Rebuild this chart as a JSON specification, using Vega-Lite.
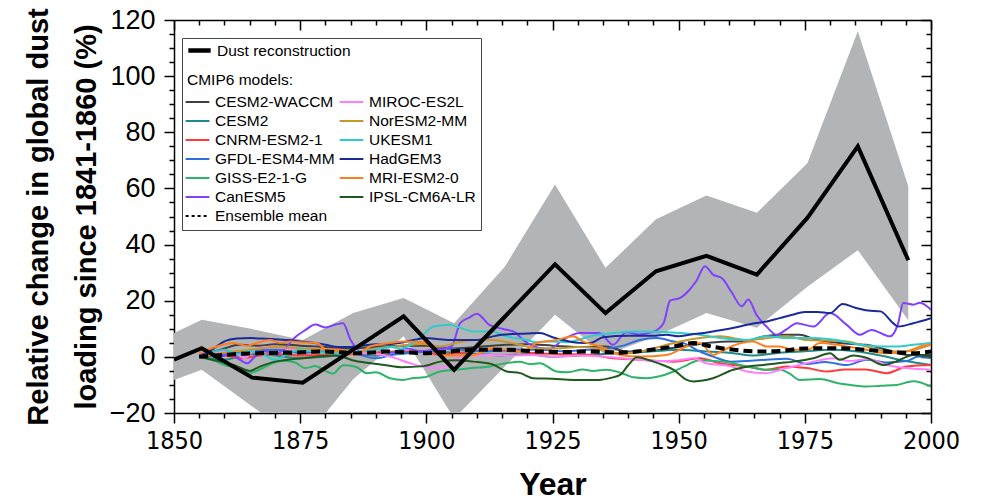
{
  "$schema": "https://vega.github.io/schema/vega-lite/v6.json",
  "width": 757,
  "height": 393,
  "autosize": {"type": "none"},
  "padding": {"left": 174, "top": 20, "right": 53, "bottom": 87},
  "config": {"view": {"stroke": null}, "font": "Liberation Sans"},
  "datasets": {
    "band": [
      {"year": 1850, "lo": -8.2, "hi": 8.5}, {"year": 1855.5, "lo": -4.6, "hi": 13.2}, {"year": 1865.5, "lo": -17.7, "hi": 9.9},
      {"year": 1875.5, "lo": -30, "hi": 6}, {"year": 1885.5, "lo": -8, "hi": 15.6}, {"year": 1895.5, "lo": 7.3, "hi": 21},
      {"year": 1905.5, "lo": -22, "hi": 12}, {"year": 1915.5, "lo": -3.5, "hi": 32}, {"year": 1925.5, "lo": 15, "hi": 61.4},
      {"year": 1935.5, "lo": 0.7, "hi": 31.7}, {"year": 1945.5, "lo": 7.3, "hi": 49}, {"year": 1955.5, "lo": 15.6, "hi": 57.5},
      {"year": 1965.5, "lo": 10.4, "hi": 51.3}, {"year": 1975.5, "lo": 25, "hi": 69}, {"year": 1985.5, "lo": 38, "hi": 116},
      {"year": 1995.5, "lo": 13, "hi": 60.8}
    ],
    "dust": [
      {"year": 1850, "value": -1}, {"year": 1855.5, "value": 3.1}, {"year": 1865.5, "value": -7.4}, {"year": 1875.5, "value": -9.2},
      {"year": 1885.5, "value": 2.6}, {"year": 1895.5, "value": 14.4}, {"year": 1905.5, "value": -4.6}, {"year": 1915.5, "value": 14.2},
      {"year": 1925.5, "value": 33}, {"year": 1935.5, "value": 15.6}, {"year": 1945.5, "value": 30.5}, {"year": 1955.5, "value": 36},
      {"year": 1965.5, "value": 29.3}, {"year": 1975.5, "value": 49.5}, {"year": 1985.5, "value": 75}, {"year": 1995.5, "value": 34.4}
    ],
    "ens": [
      {"year": 1855, "value": 0}, {"year": 1859.8, "value": 0.7}, {"year": 1866.4, "value": 1.3}, {"year": 1873, "value": 1.5},
      {"year": 1879.6, "value": 1.9}, {"year": 1886.2, "value": 1.3}, {"year": 1892.8, "value": 1.9}, {"year": 1899.4, "value": 1.3},
      {"year": 1902.7, "value": 1.6}, {"year": 1909.3, "value": 2.5}, {"year": 1915.9, "value": 2.5}, {"year": 1922.5, "value": 1.9},
      {"year": 1927, "value": 1.7}, {"year": 1932.4, "value": 1.9}, {"year": 1938.4, "value": 1.5}, {"year": 1943.6, "value": 2.3},
      {"year": 1949, "value": 3.7}, {"year": 1953, "value": 4.9}, {"year": 1957, "value": 3.5}, {"year": 1961, "value": 2.5},
      {"year": 1966, "value": 1.9}, {"year": 1970, "value": 2.1}, {"year": 1975, "value": 3}, {"year": 1981.9, "value": 3.1},
      {"year": 1987, "value": 2.5}, {"year": 1992.5, "value": 1.7}, {"year": 1996.5, "value": 1.3}, {"year": 2000, "value": 1.9}
    ],
    "models": [
      {"model": "CESM2-WACCM", "year": 1855, "value": 0}, {"model": "CESM2-WACCM", "year": 1860, "value": 3}, {"model": "CESM2-WACCM", "year": 1863, "value": 4.3},
      {"model": "CESM2-WACCM", "year": 1867, "value": 4}, {"model": "CESM2-WACCM", "year": 1870, "value": 4.5}, {"model": "CESM2-WACCM", "year": 1875, "value": 4},
      {"model": "CESM2-WACCM", "year": 1880, "value": 3.5}, {"model": "CESM2-WACCM", "year": 1885, "value": 3}, {"model": "CESM2-WACCM", "year": 1890, "value": 3.5},
      {"model": "CESM2-WACCM", "year": 1895, "value": 4}, {"model": "CESM2-WACCM", "year": 1900, "value": 4}, {"model": "CESM2-WACCM", "year": 1905, "value": 3},
      {"model": "CESM2-WACCM", "year": 1910, "value": 3.5}, {"model": "CESM2-WACCM", "year": 1915.9, "value": 4.3}, {"model": "CESM2-WACCM", "year": 1920, "value": 4.5},
      {"model": "CESM2-WACCM", "year": 1925, "value": 4}, {"model": "CESM2-WACCM", "year": 1930, "value": 3.5}, {"model": "CESM2-WACCM", "year": 1935.7, "value": 3.7},
      {"model": "CESM2-WACCM", "year": 1939.6, "value": 1.9}, {"model": "CESM2-WACCM", "year": 1944, "value": 2}, {"model": "CESM2-WACCM", "year": 1948, "value": 3},
      {"model": "CESM2-WACCM", "year": 1952, "value": 4}, {"model": "CESM2-WACCM", "year": 1956, "value": 5}, {"model": "CESM2-WACCM", "year": 1960, "value": 5.5},
      {"model": "CESM2-WACCM", "year": 1963, "value": 5.5}, {"model": "CESM2-WACCM", "year": 1966.8, "value": 7.3}, {"model": "CESM2-WACCM", "year": 1970, "value": 7.9},
      {"model": "CESM2-WACCM", "year": 1974, "value": 7.9}, {"model": "CESM2-WACCM", "year": 1976.7, "value": 6.4}, {"model": "CESM2-WACCM", "year": 1981.9, "value": 4.9},
      {"model": "CESM2-WACCM", "year": 1987.2, "value": 4.3}, {"model": "CESM2-WACCM", "year": 1991.2, "value": 2.5}, {"model": "CESM2-WACCM", "year": 1995.2, "value": 0.7},
      {"model": "CESM2-WACCM", "year": 2000, "value": 0.7},

      {"model": "CESM2", "year": 1855, "value": 0}, {"model": "CESM2", "year": 1860, "value": -1}, {"model": "CESM2", "year": 1865, "value": 1},
      {"model": "CESM2", "year": 1870, "value": 0.5}, {"model": "CESM2", "year": 1875, "value": -0.5}, {"model": "CESM2", "year": 1880, "value": 0},
      {"model": "CESM2", "year": 1885, "value": 1}, {"model": "CESM2", "year": 1890, "value": 0.5}, {"model": "CESM2", "year": 1895, "value": 1},
      {"model": "CESM2", "year": 1900, "value": 2}, {"model": "CESM2", "year": 1905, "value": 1.5}, {"model": "CESM2", "year": 1910, "value": 1},
      {"model": "CESM2", "year": 1915, "value": 0.5}, {"model": "CESM2", "year": 1920, "value": 1}, {"model": "CESM2", "year": 1925, "value": 0},
      {"model": "CESM2", "year": 1930, "value": 0.5}, {"model": "CESM2", "year": 1935, "value": 1}, {"model": "CESM2", "year": 1940, "value": 1.5},
      {"model": "CESM2", "year": 1945, "value": 2}, {"model": "CESM2", "year": 1950, "value": 2.5}, {"model": "CESM2", "year": 1955, "value": 2},
      {"model": "CESM2", "year": 1960, "value": 1.5}, {"model": "CESM2", "year": 1965, "value": 0.5}, {"model": "CESM2", "year": 1970, "value": 1.5},
      {"model": "CESM2", "year": 1975, "value": 2}, {"model": "CESM2", "year": 1980, "value": 2.5}, {"model": "CESM2", "year": 1985, "value": 2},
      {"model": "CESM2", "year": 1990, "value": 0.5}, {"model": "CESM2", "year": 1995, "value": -1.5}, {"model": "CESM2", "year": 2000, "value": -2.9},

      {"model": "CNRM-ESM2-1", "year": 1855, "value": 0}, {"model": "CNRM-ESM2-1", "year": 1860, "value": 0.5}, {"model": "CNRM-ESM2-1", "year": 1863, "value": -0.5},
      {"model": "CNRM-ESM2-1", "year": 1867, "value": 0.5}, {"model": "CNRM-ESM2-1", "year": 1870, "value": 1}, {"model": "CNRM-ESM2-1", "year": 1875, "value": 0.5},
      {"model": "CNRM-ESM2-1", "year": 1879.6, "value": 0.7}, {"model": "CNRM-ESM2-1", "year": 1885, "value": 1}, {"model": "CNRM-ESM2-1", "year": 1890, "value": 1.5},
      {"model": "CNRM-ESM2-1", "year": 1895, "value": 2}, {"model": "CNRM-ESM2-1", "year": 1899.4, "value": 1.9}, {"model": "CNRM-ESM2-1", "year": 1902.7, "value": 0.7},
      {"model": "CNRM-ESM2-1", "year": 1907, "value": 1.5}, {"model": "CNRM-ESM2-1", "year": 1912.6, "value": 2.5}, {"model": "CNRM-ESM2-1", "year": 1917, "value": 2},
      {"model": "CNRM-ESM2-1", "year": 1921.8, "value": 1.3}, {"model": "CNRM-ESM2-1", "year": 1926, "value": 1}, {"model": "CNRM-ESM2-1", "year": 1932.4, "value": 0.7},
      {"model": "CNRM-ESM2-1", "year": 1937, "value": -0.5}, {"model": "CNRM-ESM2-1", "year": 1942.3, "value": -1}, {"model": "CNRM-ESM2-1", "year": 1949, "value": -1.7},
      {"model": "CNRM-ESM2-1", "year": 1954.2, "value": -0.5}, {"model": "CNRM-ESM2-1", "year": 1958.2, "value": -2.3}, {"model": "CNRM-ESM2-1", "year": 1963.5, "value": -3.4},
      {"model": "CNRM-ESM2-1", "year": 1967.4, "value": -4.6}, {"model": "CNRM-ESM2-1", "year": 1971.4, "value": -3.4}, {"model": "CNRM-ESM2-1", "year": 1975.4, "value": -4},
      {"model": "CNRM-ESM2-1", "year": 1979.3, "value": -5.2}, {"model": "CNRM-ESM2-1", "year": 1983, "value": -4.5}, {"model": "CNRM-ESM2-1", "year": 1987, "value": -4.5},
      {"model": "CNRM-ESM2-1", "year": 1991.2, "value": -5.8}, {"model": "CNRM-ESM2-1", "year": 1995.2, "value": -3.4}, {"model": "CNRM-ESM2-1", "year": 2000, "value": -2.9},

      {"model": "GFDL-ESM4-MM", "year": 1855, "value": 0}, {"model": "GFDL-ESM4-MM", "year": 1860, "value": 1}, {"model": "GFDL-ESM4-MM", "year": 1865, "value": 2},
      {"model": "GFDL-ESM4-MM", "year": 1870, "value": 2.5}, {"model": "GFDL-ESM4-MM", "year": 1875, "value": 1.5}, {"model": "GFDL-ESM4-MM", "year": 1880, "value": 2},
      {"model": "GFDL-ESM4-MM", "year": 1885, "value": 1.5}, {"model": "GFDL-ESM4-MM", "year": 1890, "value": -0.5}, {"model": "GFDL-ESM4-MM", "year": 1895, "value": 1.5},
      {"model": "GFDL-ESM4-MM", "year": 1900, "value": 2}, {"model": "GFDL-ESM4-MM", "year": 1902.7, "value": 3.1}, {"model": "GFDL-ESM4-MM", "year": 1907, "value": 2.5},
      {"model": "GFDL-ESM4-MM", "year": 1912, "value": 2}, {"model": "GFDL-ESM4-MM", "year": 1917, "value": 2.5}, {"model": "GFDL-ESM4-MM", "year": 1922.5, "value": 2.5},
      {"model": "GFDL-ESM4-MM", "year": 1927, "value": 2}, {"model": "GFDL-ESM4-MM", "year": 1932, "value": 2.5}, {"model": "GFDL-ESM4-MM", "year": 1936, "value": 3},
      {"model": "GFDL-ESM4-MM", "year": 1939, "value": 4}, {"model": "GFDL-ESM4-MM", "year": 1942.3, "value": 6}, {"model": "GFDL-ESM4-MM", "year": 1945.6, "value": 6.7},
      {"model": "GFDL-ESM4-MM", "year": 1949, "value": 5.5}, {"model": "GFDL-ESM4-MM", "year": 1951, "value": 4.9}, {"model": "GFDL-ESM4-MM", "year": 1954.2, "value": 1.9},
      {"model": "GFDL-ESM4-MM", "year": 1957, "value": 0}, {"model": "GFDL-ESM4-MM", "year": 1960.2, "value": -1.7}, {"model": "GFDL-ESM4-MM", "year": 1963.5, "value": -1.5},
      {"model": "GFDL-ESM4-MM", "year": 1967.4, "value": -1}, {"model": "GFDL-ESM4-MM", "year": 1971.4, "value": -0.7}, {"model": "GFDL-ESM4-MM", "year": 1975.4, "value": -2.5},
      {"model": "GFDL-ESM4-MM", "year": 1979, "value": -1.8}, {"model": "GFDL-ESM4-MM", "year": 1983.3, "value": -2.9}, {"model": "GFDL-ESM4-MM", "year": 1987.2, "value": -1},
      {"model": "GFDL-ESM4-MM", "year": 1991, "value": -2}, {"model": "GFDL-ESM4-MM", "year": 1995.2, "value": -1.5}, {"model": "GFDL-ESM4-MM", "year": 1997.5, "value": 0.1},
      {"model": "GFDL-ESM4-MM", "year": 2000, "value": -0.5},

      {"model": "GISS-E2-1-G", "year": 1855, "value": 0}, {"model": "GISS-E2-1-G", "year": 1857.5, "value": -1}, {"model": "GISS-E2-1-G", "year": 1860, "value": -2.9},
      {"model": "GISS-E2-1-G", "year": 1862.5, "value": -4}, {"model": "GISS-E2-1-G", "year": 1865, "value": -5.8}, {"model": "GISS-E2-1-G", "year": 1867, "value": -4.5},
      {"model": "GISS-E2-1-G", "year": 1870, "value": -2}, {"model": "GISS-E2-1-G", "year": 1872, "value": -1.5}, {"model": "GISS-E2-1-G", "year": 1874, "value": -2},
      {"model": "GISS-E2-1-G", "year": 1876, "value": -4}, {"model": "GISS-E2-1-G", "year": 1878, "value": -3.3}, {"model": "GISS-E2-1-G", "year": 1880, "value": -5},
      {"model": "GISS-E2-1-G", "year": 1881.5, "value": -6}, {"model": "GISS-E2-1-G", "year": 1883.5, "value": -3}, {"model": "GISS-E2-1-G", "year": 1886, "value": -3.5},
      {"model": "GISS-E2-1-G", "year": 1888.2, "value": -5.8}, {"model": "GISS-E2-1-G", "year": 1890, "value": -5.5}, {"model": "GISS-E2-1-G", "year": 1892.8, "value": -7.6},
      {"model": "GISS-E2-1-G", "year": 1895.4, "value": -8.2}, {"model": "GISS-E2-1-G", "year": 1897.5, "value": -7.5}, {"model": "GISS-E2-1-G", "year": 1899.5, "value": -7.3},
      {"model": "GISS-E2-1-G", "year": 1902.7, "value": -5.2}, {"model": "GISS-E2-1-G", "year": 1906, "value": -4.6}, {"model": "GISS-E2-1-G", "year": 1909, "value": -4},
      {"model": "GISS-E2-1-G", "year": 1912.6, "value": -3.4}, {"model": "GISS-E2-1-G", "year": 1915, "value": -2.5}, {"model": "GISS-E2-1-G", "year": 1918.5, "value": -1.7},
      {"model": "GISS-E2-1-G", "year": 1920.5, "value": -2.6}, {"model": "GISS-E2-1-G", "year": 1922.5, "value": -2.3}, {"model": "GISS-E2-1-G", "year": 1925.8, "value": -5.2},
      {"model": "GISS-E2-1-G", "year": 1928, "value": -5.5}, {"model": "GISS-E2-1-G", "year": 1931, "value": -4.5}, {"model": "GISS-E2-1-G", "year": 1933, "value": -5},
      {"model": "GISS-E2-1-G", "year": 1935.7, "value": -4.6}, {"model": "GISS-E2-1-G", "year": 1939.6, "value": -6.4}, {"model": "GISS-E2-1-G", "year": 1941, "value": -7.3},
      {"model": "GISS-E2-1-G", "year": 1943.6, "value": -7.6}, {"model": "GISS-E2-1-G", "year": 1946, "value": -7}, {"model": "GISS-E2-1-G", "year": 1949, "value": -5.2},
      {"model": "GISS-E2-1-G", "year": 1951, "value": -3.5}, {"model": "GISS-E2-1-G", "year": 1954.2, "value": -1.2}, {"model": "GISS-E2-1-G", "year": 1957, "value": -1.5},
      {"model": "GISS-E2-1-G", "year": 1960, "value": -2}, {"model": "GISS-E2-1-G", "year": 1963.5, "value": -3.4}, {"model": "GISS-E2-1-G", "year": 1967.4, "value": -4.6},
      {"model": "GISS-E2-1-G", "year": 1970, "value": -4.5}, {"model": "GISS-E2-1-G", "year": 1972, "value": -6}, {"model": "GISS-E2-1-G", "year": 1974, "value": -8.2},
      {"model": "GISS-E2-1-G", "year": 1978, "value": -7.9}, {"model": "GISS-E2-1-G", "year": 1981.6, "value": -9.4}, {"model": "GISS-E2-1-G", "year": 1984, "value": -10},
      {"model": "GISS-E2-1-G", "year": 1987.2, "value": -10.6}, {"model": "GISS-E2-1-G", "year": 1990, "value": -10.3}, {"model": "GISS-E2-1-G", "year": 1993.2, "value": -10},
      {"model": "GISS-E2-1-G", "year": 1996.5, "value": -8.7}, {"model": "GISS-E2-1-G", "year": 2000, "value": -10.6},

      {"model": "CanESM5", "year": 1855, "value": 0.5}, {"model": "CanESM5", "year": 1857, "value": 1.5}, {"model": "CanESM5", "year": 1859, "value": 0},
      {"model": "CanESM5", "year": 1861, "value": 1}, {"model": "CanESM5", "year": 1863, "value": -1}, {"model": "CanESM5", "year": 1864.5, "value": -2.3},
      {"model": "CanESM5", "year": 1866, "value": 0}, {"model": "CanESM5", "year": 1868, "value": 2}, {"model": "CanESM5", "year": 1870, "value": 1},
      {"model": "CanESM5", "year": 1872, "value": 3}, {"model": "CanESM5", "year": 1874, "value": 7}, {"model": "CanESM5", "year": 1876, "value": 9.5},
      {"model": "CanESM5", "year": 1878, "value": 11.5}, {"model": "CanESM5", "year": 1880, "value": 10.5}, {"model": "CanESM5", "year": 1882, "value": 11.5},
      {"model": "CanESM5", "year": 1883.5, "value": 12}, {"model": "CanESM5", "year": 1885, "value": 6}, {"model": "CanESM5", "year": 1887, "value": 2},
      {"model": "CanESM5", "year": 1890, "value": 3}, {"model": "CanESM5", "year": 1893, "value": 1.5}, {"model": "CanESM5", "year": 1896, "value": 3},
      {"model": "CanESM5", "year": 1899, "value": 2}, {"model": "CanESM5", "year": 1902, "value": 2.5}, {"model": "CanESM5", "year": 1905, "value": 3.7},
      {"model": "CanESM5", "year": 1906.7, "value": 12}, {"model": "CanESM5", "year": 1908.5, "value": 14}, {"model": "CanESM5", "year": 1910, "value": 15.4},
      {"model": "CanESM5", "year": 1912.5, "value": 11.4}, {"model": "CanESM5", "year": 1915, "value": 10}, {"model": "CanESM5", "year": 1917.5, "value": 8.8},
      {"model": "CanESM5", "year": 1919.2, "value": 6}, {"model": "CanESM5", "year": 1922.5, "value": 3.2}, {"model": "CanESM5", "year": 1924.5, "value": 2.9},
      {"model": "CanESM5", "year": 1927, "value": 6}, {"model": "CanESM5", "year": 1930.4, "value": 8.5}, {"model": "CanESM5", "year": 1934.3, "value": 8.5},
      {"model": "CanESM5", "year": 1937, "value": 4.3}, {"model": "CanESM5", "year": 1939.6, "value": 8.8}, {"model": "CanESM5", "year": 1942, "value": 8},
      {"model": "CanESM5", "year": 1945, "value": 9}, {"model": "CanESM5", "year": 1947, "value": 12}, {"model": "CanESM5", "year": 1948.3, "value": 20},
      {"model": "CanESM5", "year": 1950.3, "value": 21}, {"model": "CanESM5", "year": 1952.2, "value": 24}, {"model": "CanESM5", "year": 1953.5, "value": 27},
      {"model": "CanESM5", "year": 1955.2, "value": 32.3}, {"model": "CanESM5", "year": 1956.8, "value": 29.3}, {"model": "CanESM5", "year": 1958.6, "value": 28},
      {"model": "CanESM5", "year": 1960.5, "value": 23}, {"model": "CanESM5", "year": 1962.5, "value": 18}, {"model": "CanESM5", "year": 1963.8, "value": 20.4},
      {"model": "CanESM5", "year": 1965.4, "value": 15}, {"model": "CanESM5", "year": 1967.4, "value": 10.8}, {"model": "CanESM5", "year": 1969.4, "value": 7.9},
      {"model": "CanESM5", "year": 1971.5, "value": 10}, {"model": "CanESM5", "year": 1973.4, "value": 12}, {"model": "CanESM5", "year": 1976.7, "value": 10.8},
      {"model": "CanESM5", "year": 1980, "value": 15.6}, {"model": "CanESM5", "year": 1983.3, "value": 11.4}, {"model": "CanESM5", "year": 1985.9, "value": 7.9},
      {"model": "CanESM5", "year": 1988.2, "value": 9.6}, {"model": "CanESM5", "year": 1991.9, "value": 7.3}, {"model": "CanESM5", "year": 1993.5, "value": 12},
      {"model": "CanESM5", "year": 1994.5, "value": 19.2}, {"model": "CanESM5", "year": 1996.5, "value": 18.6}, {"model": "CanESM5", "year": 1997.8, "value": 19.3},
      {"model": "CanESM5", "year": 2000, "value": 16.8},

      {"model": "MIROC-ES2L", "year": 1855, "value": 0}, {"model": "MIROC-ES2L", "year": 1857.5, "value": 1}, {"model": "MIROC-ES2L", "year": 1860, "value": 2},
      {"model": "MIROC-ES2L", "year": 1862.5, "value": 1}, {"model": "MIROC-ES2L", "year": 1864, "value": -0.5}, {"model": "MIROC-ES2L", "year": 1866.4, "value": 3.1},
      {"model": "MIROC-ES2L", "year": 1869.7, "value": 3.7}, {"model": "MIROC-ES2L", "year": 1872.5, "value": 3}, {"model": "MIROC-ES2L", "year": 1875, "value": 2.5},
      {"model": "MIROC-ES2L", "year": 1878, "value": 3}, {"model": "MIROC-ES2L", "year": 1882, "value": 2}, {"model": "MIROC-ES2L", "year": 1886, "value": 1.5},
      {"model": "MIROC-ES2L", "year": 1890, "value": 1}, {"model": "MIROC-ES2L", "year": 1892.8, "value": 0.1}, {"model": "MIROC-ES2L", "year": 1896.8, "value": -2.3},
      {"model": "MIROC-ES2L", "year": 1899.4, "value": -3.5}, {"model": "MIROC-ES2L", "year": 1903.4, "value": -4}, {"model": "MIROC-ES2L", "year": 1905.5, "value": -1},
      {"model": "MIROC-ES2L", "year": 1908, "value": 0.5}, {"model": "MIROC-ES2L", "year": 1912.6, "value": 0.7}, {"model": "MIROC-ES2L", "year": 1917, "value": 0.5},
      {"model": "MIROC-ES2L", "year": 1921, "value": 0.7}, {"model": "MIROC-ES2L", "year": 1925, "value": 0}, {"model": "MIROC-ES2L", "year": 1930, "value": 0.5},
      {"model": "MIROC-ES2L", "year": 1935, "value": 0.1}, {"model": "MIROC-ES2L", "year": 1939, "value": -0.5}, {"model": "MIROC-ES2L", "year": 1942.3, "value": -1},
      {"model": "MIROC-ES2L", "year": 1946, "value": -1.5}, {"model": "MIROC-ES2L", "year": 1950, "value": -1.2}, {"model": "MIROC-ES2L", "year": 1953, "value": -0.5},
      {"model": "MIROC-ES2L", "year": 1955.5, "value": -2.3}, {"model": "MIROC-ES2L", "year": 1960.2, "value": -3.3}, {"model": "MIROC-ES2L", "year": 1963.5, "value": -5.2},
      {"model": "MIROC-ES2L", "year": 1967.4, "value": -5.8}, {"model": "MIROC-ES2L", "year": 1971.4, "value": -4}, {"model": "MIROC-ES2L", "year": 1976.7, "value": -1.7},
      {"model": "MIROC-ES2L", "year": 1980.6, "value": -0.5}, {"model": "MIROC-ES2L", "year": 1984, "value": -1.5}, {"model": "MIROC-ES2L", "year": 1987.5, "value": -0.8},
      {"model": "MIROC-ES2L", "year": 1991.2, "value": -2.9}, {"model": "MIROC-ES2L", "year": 1995.2, "value": -4}, {"model": "MIROC-ES2L", "year": 2000, "value": -4.6},

      {"model": "NorESM2-MM", "year": 1855, "value": 0}, {"model": "NorESM2-MM", "year": 1860, "value": 1.5}, {"model": "NorESM2-MM", "year": 1865, "value": 2.5},
      {"model": "NorESM2-MM", "year": 1870, "value": 3.5}, {"model": "NorESM2-MM", "year": 1875, "value": 3}, {"model": "NorESM2-MM", "year": 1880, "value": 2.5},
      {"model": "NorESM2-MM", "year": 1885, "value": 1.5}, {"model": "NorESM2-MM", "year": 1890, "value": 3}, {"model": "NorESM2-MM", "year": 1895, "value": 4},
      {"model": "NorESM2-MM", "year": 1899.4, "value": 4.6}, {"model": "NorESM2-MM", "year": 1902.7, "value": 3.7}, {"model": "NorESM2-MM", "year": 1906, "value": 5},
      {"model": "NorESM2-MM", "year": 1909.3, "value": 6}, {"model": "NorESM2-MM", "year": 1913, "value": 6}, {"model": "NorESM2-MM", "year": 1918.5, "value": 4.3},
      {"model": "NorESM2-MM", "year": 1922, "value": 3}, {"model": "NorESM2-MM", "year": 1926, "value": 3}, {"model": "NorESM2-MM", "year": 1930, "value": 3.5},
      {"model": "NorESM2-MM", "year": 1934, "value": 3}, {"model": "NorESM2-MM", "year": 1937, "value": 1.3}, {"model": "NorESM2-MM", "year": 1941, "value": 1.5},
      {"model": "NorESM2-MM", "year": 1945, "value": 3}, {"model": "NorESM2-MM", "year": 1948, "value": 4.5}, {"model": "NorESM2-MM", "year": 1950.3, "value": 5.5},
      {"model": "NorESM2-MM", "year": 1954.2, "value": 6.7}, {"model": "NorESM2-MM", "year": 1958.2, "value": 7.3}, {"model": "NorESM2-MM", "year": 1963.5, "value": 6},
      {"model": "NorESM2-MM", "year": 1967, "value": 6.5}, {"model": "NorESM2-MM", "year": 1971.4, "value": 7.3}, {"model": "NorESM2-MM", "year": 1975.4, "value": 6},
      {"model": "NorESM2-MM", "year": 1979, "value": 5.8}, {"model": "NorESM2-MM", "year": 1983.3, "value": 5.5}, {"model": "NorESM2-MM", "year": 1987.2, "value": 3.7},
      {"model": "NorESM2-MM", "year": 1991.2, "value": 1.9}, {"model": "NorESM2-MM", "year": 1995, "value": 2}, {"model": "NorESM2-MM", "year": 2000, "value": 4.3},

      {"model": "UKESM1", "year": 1855, "value": 0}, {"model": "UKESM1", "year": 1857.5, "value": 1.5}, {"model": "UKESM1", "year": 1860, "value": 2.5},
      {"model": "UKESM1", "year": 1862.5, "value": 1}, {"model": "UKESM1", "year": 1865, "value": 2}, {"model": "UKESM1", "year": 1867.5, "value": 1},
      {"model": "UKESM1", "year": 1870, "value": -1}, {"model": "UKESM1", "year": 1872.5, "value": 1}, {"model": "UKESM1", "year": 1875, "value": 2.5},
      {"model": "UKESM1", "year": 1877.5, "value": 2}, {"model": "UKESM1", "year": 1880, "value": 1.5}, {"model": "UKESM1", "year": 1882.5, "value": 1},
      {"model": "UKESM1", "year": 1885, "value": 1.5}, {"model": "UKESM1", "year": 1887.5, "value": 2}, {"model": "UKESM1", "year": 1890, "value": 2.5},
      {"model": "UKESM1", "year": 1892.8, "value": 3.5}, {"model": "UKESM1", "year": 1895, "value": 3}, {"model": "UKESM1", "year": 1897.5, "value": 5},
      {"model": "UKESM1", "year": 1899.4, "value": 7.9}, {"model": "UKESM1", "year": 1901.4, "value": 10.8}, {"model": "UKESM1", "year": 1904.6, "value": 11.4},
      {"model": "UKESM1", "year": 1906.5, "value": 10.5}, {"model": "UKESM1", "year": 1909.3, "value": 9}, {"model": "UKESM1", "year": 1913, "value": 9},
      {"model": "UKESM1", "year": 1915.9, "value": 7.3}, {"model": "UKESM1", "year": 1919.9, "value": 6}, {"model": "UKESM1", "year": 1921.8, "value": 5.2},
      {"model": "UKESM1", "year": 1924, "value": 5.5}, {"model": "UKESM1", "year": 1927.8, "value": 5.2}, {"model": "UKESM1", "year": 1930, "value": 6},
      {"model": "UKESM1", "year": 1932.4, "value": 7.3}, {"model": "UKESM1", "year": 1937, "value": 8.5}, {"model": "UKESM1", "year": 1942.3, "value": 9},
      {"model": "UKESM1", "year": 1947.6, "value": 8.8}, {"model": "UKESM1", "year": 1950.3, "value": 8.5}, {"model": "UKESM1", "year": 1954.2, "value": 7.9},
      {"model": "UKESM1", "year": 1958.2, "value": 6.7}, {"model": "UKESM1", "year": 1963.5, "value": 6}, {"model": "UKESM1", "year": 1967.4, "value": 7.3},
      {"model": "UKESM1", "year": 1971.4, "value": 6.7}, {"model": "UKESM1", "year": 1976.7, "value": 6.7}, {"model": "UKESM1", "year": 1981.9, "value": 5.8},
      {"model": "UKESM1", "year": 1985.9, "value": 4.3}, {"model": "UKESM1", "year": 1989.9, "value": 3.7}, {"model": "UKESM1", "year": 1993.2, "value": 3.7},
      {"model": "UKESM1", "year": 1996.5, "value": 4.3}, {"model": "UKESM1", "year": 2000, "value": 4.9},

      {"model": "HadGEM3", "year": 1855, "value": 0}, {"model": "HadGEM3", "year": 1857.5, "value": 2.5}, {"model": "HadGEM3", "year": 1860, "value": 5.5},
      {"model": "HadGEM3", "year": 1862.5, "value": 6.5}, {"model": "HadGEM3", "year": 1865, "value": 6.7}, {"model": "HadGEM3", "year": 1867.5, "value": 6.5},
      {"model": "HadGEM3", "year": 1870, "value": 6.3}, {"model": "HadGEM3", "year": 1872.5, "value": 6}, {"model": "HadGEM3", "year": 1875, "value": 5.5},
      {"model": "HadGEM3", "year": 1877.5, "value": 5}, {"model": "HadGEM3", "year": 1880, "value": 4.3}, {"model": "HadGEM3", "year": 1882.5, "value": 3.5},
      {"model": "HadGEM3", "year": 1885, "value": 3.5}, {"model": "HadGEM3", "year": 1887.5, "value": 4}, {"model": "HadGEM3", "year": 1890, "value": 4.5},
      {"model": "HadGEM3", "year": 1892.5, "value": 4.5}, {"model": "HadGEM3", "year": 1895, "value": 5}, {"model": "HadGEM3", "year": 1897.5, "value": 6},
      {"model": "HadGEM3", "year": 1900, "value": 6.7}, {"model": "HadGEM3", "year": 1902.5, "value": 6.3}, {"model": "HadGEM3", "year": 1905, "value": 6},
      {"model": "HadGEM3", "year": 1910, "value": 6}, {"model": "HadGEM3", "year": 1912.5, "value": 7}, {"model": "HadGEM3", "year": 1915, "value": 7.9},
      {"model": "HadGEM3", "year": 1920, "value": 8.3}, {"model": "HadGEM3", "year": 1922.5, "value": 8.5}, {"model": "HadGEM3", "year": 1925, "value": 7},
      {"model": "HadGEM3", "year": 1927.5, "value": 5.8}, {"model": "HadGEM3", "year": 1930, "value": 5}, {"model": "HadGEM3", "year": 1932.5, "value": 4.9},
      {"model": "HadGEM3", "year": 1935, "value": 7}, {"model": "HadGEM3", "year": 1940, "value": 7.5}, {"model": "HadGEM3", "year": 1945, "value": 7.5},
      {"model": "HadGEM3", "year": 1947.5, "value": 7.9}, {"model": "HadGEM3", "year": 1950, "value": 7.3}, {"model": "HadGEM3", "year": 1952.5, "value": 8},
      {"model": "HadGEM3", "year": 1955, "value": 8.5}, {"model": "HadGEM3", "year": 1957.5, "value": 9.3}, {"model": "HadGEM3", "year": 1960, "value": 10},
      {"model": "HadGEM3", "year": 1962.5, "value": 11}, {"model": "HadGEM3", "year": 1965, "value": 12}, {"model": "HadGEM3", "year": 1967.5, "value": 12.6},
      {"model": "HadGEM3", "year": 1970, "value": 13.8}, {"model": "HadGEM3", "year": 1972.5, "value": 15}, {"model": "HadGEM3", "year": 1975, "value": 16},
      {"model": "HadGEM3", "year": 1977.5, "value": 16}, {"model": "HadGEM3", "year": 1980, "value": 15.6}, {"model": "HadGEM3", "year": 1982.5, "value": 18.8},
      {"model": "HadGEM3", "year": 1985, "value": 17.5}, {"model": "HadGEM3", "year": 1987.5, "value": 16.5}, {"model": "HadGEM3", "year": 1990, "value": 16.2},
      {"model": "HadGEM3", "year": 1992.5, "value": 12}, {"model": "HadGEM3", "year": 1993.5, "value": 10.8}, {"model": "HadGEM3", "year": 1996.5, "value": 12},
      {"model": "HadGEM3", "year": 2000, "value": 13.8},

      {"model": "MRI-ESM2-0", "year": 1855, "value": 1.3}, {"model": "MRI-ESM2-0", "year": 1858.5, "value": 3.7}, {"model": "MRI-ESM2-0", "year": 1861.8, "value": 4.9},
      {"model": "MRI-ESM2-0", "year": 1864.4, "value": 4}, {"model": "MRI-ESM2-0", "year": 1866.5, "value": 5}, {"model": "MRI-ESM2-0", "year": 1869, "value": 6},
      {"model": "MRI-ESM2-0", "year": 1871, "value": 5}, {"model": "MRI-ESM2-0", "year": 1873, "value": 5.5}, {"model": "MRI-ESM2-0", "year": 1875, "value": 5.2},
      {"model": "MRI-ESM2-0", "year": 1878.3, "value": 4.9}, {"model": "MRI-ESM2-0", "year": 1880.3, "value": 2.5}, {"model": "MRI-ESM2-0", "year": 1883, "value": 2.5},
      {"model": "MRI-ESM2-0", "year": 1886.2, "value": 0.7}, {"model": "MRI-ESM2-0", "year": 1888.8, "value": 3.7}, {"model": "MRI-ESM2-0", "year": 1892.8, "value": 4.9},
      {"model": "MRI-ESM2-0", "year": 1895.4, "value": 5.5}, {"model": "MRI-ESM2-0", "year": 1899.4, "value": 5.2}, {"model": "MRI-ESM2-0", "year": 1901, "value": 3.5},
      {"model": "MRI-ESM2-0", "year": 1902.7, "value": 0.7}, {"model": "MRI-ESM2-0", "year": 1906, "value": 0.5}, {"model": "MRI-ESM2-0", "year": 1909.3, "value": 0.7},
      {"model": "MRI-ESM2-0", "year": 1913.3, "value": 3.1}, {"model": "MRI-ESM2-0", "year": 1916, "value": 2.5}, {"model": "MRI-ESM2-0", "year": 1919.2, "value": 1.9},
      {"model": "MRI-ESM2-0", "year": 1921.8, "value": 4.9}, {"model": "MRI-ESM2-0", "year": 1925.8, "value": 6}, {"model": "MRI-ESM2-0", "year": 1929.1, "value": 7.3},
      {"model": "MRI-ESM2-0", "year": 1931, "value": 5.5}, {"model": "MRI-ESM2-0", "year": 1934.4, "value": 3.7}, {"model": "MRI-ESM2-0", "year": 1938.4, "value": 0.7},
      {"model": "MRI-ESM2-0", "year": 1942.3, "value": 0.1}, {"model": "MRI-ESM2-0", "year": 1947.6, "value": 0.7}, {"model": "MRI-ESM2-0", "year": 1951.6, "value": 3.7},
      {"model": "MRI-ESM2-0", "year": 1954.2, "value": 4.9}, {"model": "MRI-ESM2-0", "year": 1956.9, "value": 0.7}, {"model": "MRI-ESM2-0", "year": 1958.5, "value": 2},
      {"model": "MRI-ESM2-0", "year": 1960.8, "value": 4}, {"model": "MRI-ESM2-0", "year": 1964.7, "value": 5.5}, {"model": "MRI-ESM2-0", "year": 1967.4, "value": 3.7},
      {"model": "MRI-ESM2-0", "year": 1970, "value": 3.7}, {"model": "MRI-ESM2-0", "year": 1972.7, "value": 2.5}, {"model": "MRI-ESM2-0", "year": 1975.5, "value": 2.5},
      {"model": "MRI-ESM2-0", "year": 1978, "value": 4.9}, {"model": "MRI-ESM2-0", "year": 1981.3, "value": 4.3}, {"model": "MRI-ESM2-0", "year": 1984, "value": 3.5},
      {"model": "MRI-ESM2-0", "year": 1987.2, "value": 2.5}, {"model": "MRI-ESM2-0", "year": 1991.2, "value": 1.3}, {"model": "MRI-ESM2-0", "year": 1995.2, "value": 1.9},
      {"model": "MRI-ESM2-0", "year": 1997.8, "value": 3.7}, {"model": "MRI-ESM2-0", "year": 2000, "value": 4.3},

      {"model": "IPSL-CM6A-LR", "year": 1855, "value": 0}, {"model": "IPSL-CM6A-LR", "year": 1857.5, "value": -1}, {"model": "IPSL-CM6A-LR", "year": 1860, "value": -2},
      {"model": "IPSL-CM6A-LR", "year": 1862, "value": -3}, {"model": "IPSL-CM6A-LR", "year": 1865, "value": -5}, {"model": "IPSL-CM6A-LR", "year": 1867, "value": -3.5},
      {"model": "IPSL-CM6A-LR", "year": 1870, "value": -1.7}, {"model": "IPSL-CM6A-LR", "year": 1872.5, "value": -1}, {"model": "IPSL-CM6A-LR", "year": 1875.5, "value": -0.5},
      {"model": "IPSL-CM6A-LR", "year": 1879, "value": 0.2}, {"model": "IPSL-CM6A-LR", "year": 1882, "value": 0.5}, {"model": "IPSL-CM6A-LR", "year": 1886, "value": -1.5},
      {"model": "IPSL-CM6A-LR", "year": 1889, "value": -2.3}, {"model": "IPSL-CM6A-LR", "year": 1892, "value": -3}, {"model": "IPSL-CM6A-LR", "year": 1895, "value": -3.7},
      {"model": "IPSL-CM6A-LR", "year": 1899.5, "value": -3.3}, {"model": "IPSL-CM6A-LR", "year": 1902.7, "value": -1.7}, {"model": "IPSL-CM6A-LR", "year": 1906, "value": -1.2},
      {"model": "IPSL-CM6A-LR", "year": 1909.3, "value": -1.7}, {"model": "IPSL-CM6A-LR", "year": 1913, "value": -2.6}, {"model": "IPSL-CM6A-LR", "year": 1915.9, "value": -5.2},
      {"model": "IPSL-CM6A-LR", "year": 1918.6, "value": -5.8}, {"model": "IPSL-CM6A-LR", "year": 1921.2, "value": -7.6}, {"model": "IPSL-CM6A-LR", "year": 1925, "value": -7.8},
      {"model": "IPSL-CM6A-LR", "year": 1929.1, "value": -8.2}, {"model": "IPSL-CM6A-LR", "year": 1934.3, "value": -8.2}, {"model": "IPSL-CM6A-LR", "year": 1936.5, "value": -7.5},
      {"model": "IPSL-CM6A-LR", "year": 1938.4, "value": -6.4}, {"model": "IPSL-CM6A-LR", "year": 1940, "value": -3}, {"model": "IPSL-CM6A-LR", "year": 1941.7, "value": -0.1},
      {"model": "IPSL-CM6A-LR", "year": 1945, "value": -1.7}, {"model": "IPSL-CM6A-LR", "year": 1947, "value": -3}, {"model": "IPSL-CM6A-LR", "year": 1949, "value": -4.6},
      {"model": "IPSL-CM6A-LR", "year": 1951.6, "value": -8.2}, {"model": "IPSL-CM6A-LR", "year": 1952.9, "value": -8.8}, {"model": "IPSL-CM6A-LR", "year": 1954.5, "value": -8.5},
      {"model": "IPSL-CM6A-LR", "year": 1956.8, "value": -7.6}, {"model": "IPSL-CM6A-LR", "year": 1960.8, "value": -4.6}, {"model": "IPSL-CM6A-LR", "year": 1963.5, "value": -3.5},
      {"model": "IPSL-CM6A-LR", "year": 1966.8, "value": -2.9}, {"model": "IPSL-CM6A-LR", "year": 1970, "value": -2.2}, {"model": "IPSL-CM6A-LR", "year": 1972.7, "value": -1.7},
      {"model": "IPSL-CM6A-LR", "year": 1976.7, "value": -0.5}, {"model": "IPSL-CM6A-LR", "year": 1980, "value": 1.3}, {"model": "IPSL-CM6A-LR", "year": 1981.9, "value": -1},
      {"model": "IPSL-CM6A-LR", "year": 1984.6, "value": 0.5}, {"model": "IPSL-CM6A-LR", "year": 1987.5, "value": -0.5}, {"model": "IPSL-CM6A-LR", "year": 1990.5, "value": -2.9},
      {"model": "IPSL-CM6A-LR", "year": 1993, "value": -1.7}, {"model": "IPSL-CM6A-LR", "year": 1996.5, "value": 0.7}, {"model": "IPSL-CM6A-LR", "year": 2000, "value": 0}
    ]
  },
  "resolve": {"scale": {"color": "independent"}, "axis": {"x": "independent", "y": "independent"}},
  "layer": [
    {
      "data": {"name": "band"},
      "mark": {"type": "area", "color": "#b3b4b5", "clip": true},
      "encoding": {
        "x": {
          "field": "year", "type": "quantitative",
          "scale": {"domain": [1850, 2000], "nice": false, "zero": false},
          "axis": {
            "orient": "bottom", "title": "Year", "grid": false,
            "values": [1850,1855,1860,1865,1870,1875,1880,1885,1890,1895,1900,1905,1910,1915,1920,1925,1930,1935,1940,1945,1950,1955,1960,1965,1970,1975,1980,1985,1990,1995,2000],
            "format": "d",
            "labelExpr": "datum.value % 25 === 0 ? datum.label : ''",
            "tickSize": {"condition": {"test": "datum.value % 25 === 0", "value": 10}, "value": 5},
            "labelFont": "DejaVu Sans Condensed, Liberation Sans", "labelFontSize": 25, "labelColor": "black",
            "labelPadding": 5, "labelFlush": false, "labelOverlap": false,
            "domainColor": "black", "domainWidth": 1.5, "tickColor": "black", "tickWidth": 1.5,
            "titleFont": "Liberation Sans", "titleFontSize": 32, "titleFontWeight": "bold", "titleColor": "black", "titlePadding": 16
          }
        },
        "y": {
          "field": "lo", "type": "quantitative",
          "scale": {"domain": [-20, 120], "nice": false, "zero": false},
          "axis": {
            "orient": "left",
            "title": ["Relative change in global dust", "loading since 1841-1860 (%)"],
            "grid": false,
            "values": [-20,-15,-10,-5,0,5,10,15,20,25,30,35,40,45,50,55,60,65,70,75,80,85,90,95,100,105,110,115,120],
            "labelExpr": "datum.value % 20 === 0 ? datum.label : ''",
            "tickSize": {"condition": {"test": "datum.value % 20 === 0", "value": 10}, "value": 5},
            "labelFont": "Liberation Sans", "labelFontSize": 27, "labelColor": "black",
            "labelPadding": 9, "labelOverlap": false, "labelFlush": false,
            "domainColor": "black", "domainWidth": 1.5, "tickColor": "black", "tickWidth": 1.5,
            "titleFont": "Liberation Sans", "titleFontSize": 29, "titleFontWeight": "bold", "titleColor": "black",
            "titleLineHeight": 48, "titlePadding": 8
          }
        },
        "y2": {"field": "hi"}
      }
    },
    {
      "layer": [
        {
          "data": {"name": "models"},
          "mark": {"type": "line", "strokeWidth": 2, "clip": true, "interpolate": "monotone"},
          "encoding": {
            "x": {"field": "year", "type": "quantitative", "axis": null},
            "y": {"field": "value", "type": "quantitative", "axis": null},
            "color": {
              "field": "model", "type": "nominal",
              "scale": {
                "domain": ["CESM2-WACCM","CESM2","CNRM-ESM2-1","GFDL-ESM4-MM","GISS-E2-1-G","CanESM5","Ensemble mean","MIROC-ES2L","NorESM2-MM","UKESM1","HadGEM3","MRI-ESM2-0","IPSL-CM6A-LR"],
                "range": ["#404040","#1f8a86","#ff3b3b","#2f6fe0","#2eb36a","#8040ff","#000000","#ff80ff","#c8962a","#2ecccc","#1a2a9a","#ff7f1f","#1e5a1e"]
              },
              "legend": {
                "orient": "none", "legendX": 8, "legendY": 18,
                "title": [" ", "CMIP6 models:"],
                "titleFont": "Liberation Sans", "titleFontSize": 15.5, "titleFontWeight": "normal", "titleColor": "black",
                "titleLineHeight": 30, "titlePadding": 3,
                "columns": 2, "columnPadding": 0, "rowPadding": 0,
                "symbolType": "M-1.25,0H1.25", "symbolSize": 361, "symbolStrokeWidth": 2,
                "labelFont": "Liberation Sans", "labelFontSize": 15.5, "labelColor": "black", "labelOffset": 7, "labelLimit": 300,
                "strokeColor": "#444444", "padding": 5,
                "encode": {"symbols": {"update": {"strokeDash": {"signal": "datum.label === 'Ensemble mean' ? [3, 3] : null"}}}}
              }
            }
          }
        },
        {
          "data": {"name": "ens"},
          "mark": {"type": "line", "strokeWidth": 4, "strokeDash": [9, 5], "clip": true, "interpolate": "monotone"},
          "encoding": {
            "x": {"field": "year", "type": "quantitative", "axis": null},
            "y": {"field": "value", "type": "quantitative", "axis": null},
            "color": {"datum": "Ensemble mean", "type": "nominal"}
          }
        }
      ]
    },
    {
      "data": {"name": "dust"},
      "mark": {"type": "line", "strokeWidth": 4, "clip": true},
      "encoding": {
        "x": {
          "field": "year", "type": "quantitative",
          "axis": {
            "orient": "top", "title": null, "labels": false, "grid": false,
            "values": [1850,1855,1860,1865,1870,1875,1880,1885,1890,1895,1900,1905,1910,1915,1920,1925,1930,1935,1940,1945,1950,1955,1960,1965,1970,1975,1980,1985,1990,1995,2000],
            "tickSize": {"condition": {"test": "datum.value % 25 === 0", "value": -10}, "value": -5},
            "domainColor": "black", "domainWidth": 1.5, "tickColor": "black", "tickWidth": 1.5
          }
        },
        "y": {
          "field": "value", "type": "quantitative",
          "axis": {
            "orient": "right", "title": null, "labels": false, "grid": false,
            "values": [-20,-15,-10,-5,0,5,10,15,20,25,30,35,40,45,50,55,60,65,70,75,80,85,90,95,100,105,110,115,120],
            "tickSize": {"condition": {"test": "datum.value % 20 === 0", "value": -10}, "value": -5},
            "domainColor": "black", "domainWidth": 1.5, "tickColor": "black", "tickWidth": 1.5
          }
        },
        "color": {
          "datum": "Dust reconstruction", "type": "nominal",
          "scale": {"domain": ["Dust reconstruction"], "range": ["#000000"]},
          "legend": {
            "orient": "none", "legendX": 12, "legendY": 17, "title": null,
            "symbolType": "stroke", "symbolSize": 500, "symbolStrokeWidth": 4.5,
            "labelFont": "Liberation Sans", "labelFontSize": 15.5, "labelColor": "black", "labelOffset": 4, "labelLimit": 300,
            "padding": 0
          }
        }
      }
    }
  ]
}
